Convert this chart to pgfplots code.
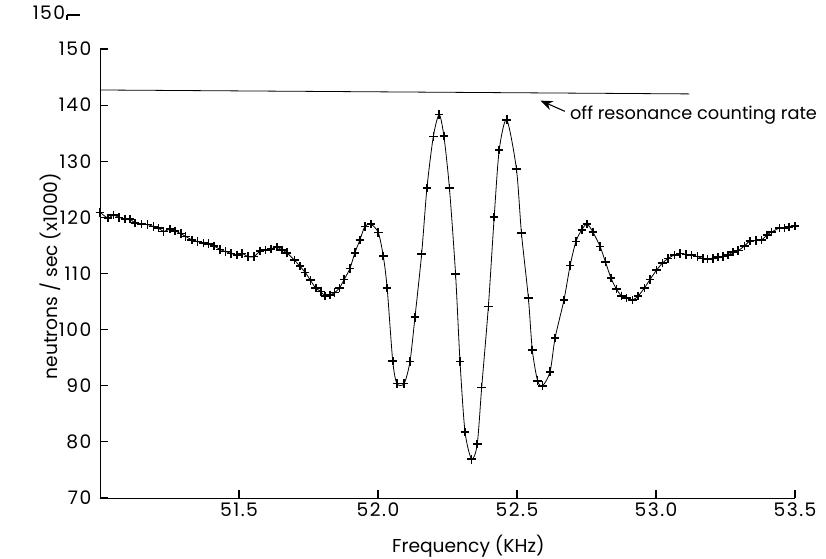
\documentclass[border=0pt]{standalone}
\usepackage{fontspec}
\setmainfont{Poppins}
\newfontfamily\tickfont[LetterSpace=8]{Poppins}
\usepackage{pgfplots}
\pgfplotsset{compat=1.18}
\usetikzlibrary{arrows.meta}

\pgfplotstableread{
f      rate
51.000 120.9
51.028 119.9
51.048 120.4
51.068 120.0
51.090 119.7
51.108 119.7
51.126 119.0
51.150 118.8
51.171 118.7
51.192 118.4
51.210 118.1
51.228 117.5
51.252 117.9
51.270 117.6
51.291 117.1
51.308 116.6
51.330 116.0
51.351 115.7
51.372 115.4
51.390 115.3
51.410 114.9
51.432 114.3
51.452 113.9
51.471 113.6
51.492 113.3
51.510 113.6
51.533 113.0
51.554 113.0
51.576 114.0
51.596 114.2
51.615 114.4
51.636 114.7
51.654 114.2
51.672 113.7
51.699 112.4
51.719 111.3
51.738 110.2
51.757 108.8
51.776 107.4
51.794 106.8
51.809 106.0
51.827 106.2
51.844 106.6
51.861 107.4
51.878 108.9
51.899 110.9
51.917 113.7
51.935 116.0
51.953 118.4
51.974 118.8
52.001 117.3
52.019 113.1
52.033 107.4
52.053 94.4
52.068 90.4
52.094 90.4
52.115 94.3
52.133 102.2
52.157 113.5
52.176 125.2
52.199 134.4
52.220 138.3
52.237 134.5
52.257 125.2
52.279 109.9
52.295 94.3
52.313 81.8
52.337 76.9
52.357 79.6
52.373 89.7
52.397 104.1
52.418 120.1
52.436 132.0
52.463 137.4
52.498 128.6
52.516 117.2
52.541 105.6
52.555 96.4
52.574 90.9
52.592 90.0
52.619 92.5
52.637 98.5
52.669 105.3
52.691 111.4
52.712 115.7
52.733 117.8
52.752 118.8
52.773 117.4
52.799 114.8
52.818 112.1
52.838 109.2
52.858 107.2
52.876 106.0
52.894 105.6
52.916 105.3
52.936 106.0
52.958 107.4
52.978 108.9
53.002 110.6
53.024 111.9
53.044 112.7
53.066 113.3
53.086 113.6
53.108 113.4
53.128 113.3
53.149 113.0
53.168 112.7
53.185 112.6
53.204 112.7
53.222 112.9
53.240 113.0
53.258 113.3
53.278 113.8
53.296 114.1
53.318 114.9
53.338 115.8
53.360 115.9
53.380 116.0
53.400 116.9
53.416 117.4
53.444 118.1
53.462 118.1
53.479 118.3
53.500 118.5
}\scan

\begin{document}
\begin{tikzpicture}[x=0.75pt, y=0.75pt]
  \begin{axis}[
      at={(0,0)}, anchor=south west,
      scale only axis,
      width=521.25pt, height=336.75pt,
      xmin=51, xmax=53.5,
      ymin=70, ymax=150,
      clip=false,
      axis lines=left,
      axis line style={-, line width=0.7pt},
      xtick={51.5,52.0,52.5,53.0,53.5},
      ytick={70,80,...,150},
      tick align=inside,
      major tick length=6pt,
      tick style={black, line width=0.9pt},
      tick label style={font=\tickfont\fontsize{14pt}{16pt}\selectfont},
      xticklabel style={/pgf/number format/.cd, fixed, fixed zerofill, precision=1, assume math mode=true},
      yticklabel style={/pgf/number format/assume math mode=true, xshift=-3pt},
      xlabel={Frequency (KHz)},
      xlabel style={at={(axis description cs:0.53,0)}, anchor=base, yshift=-41pt,
        font=\fontsize{14pt}{16pt}\selectfont},
      ylabel={neutrons / sec (x1000)},
      ylabel style={at={(axis description cs:-0.072,0.494)}, anchor=center,
        font=\fontsize{14pt}{16pt}\selectfont},
    ]
    % measured counting rate
    \addplot[black, line width=0.6pt, smooth, tension=0.45,
      mark=+, mark size=3.2pt, mark options={line width=1.2pt}]
      table[x=f, y=rate] {\scan};

    % off resonance level
    \addplot[black, line width=0.6pt, no marks] coordinates {(51.0,142.7) (53.12,142.0)};

    \draw[-{Stealth[length=9pt, width=7pt]}, line width=0.8pt]
      (axis cs:52.672,138.9) -- (axis cs:52.585,140.8);
    \node[anchor=west, inner sep=0pt, font=\fontsize{13.3pt}{16pt}\selectfont]
      at (axis cs:52.69,138.3) {off resonance counting rate};
  \end{axis}
  \pgfresetboundingbox
  \path[use as bounding box] (-100,-60) rectangle (726,498);
  % ghost of an earlier scale at the top left
  \node[font=\tickfont\fontsize{14pt}{16pt}\selectfont, inner sep=0pt, anchor=base] at (-51,478) {150};
  \draw[line width=0.8pt] (-33,483) -- (-20,483) (-33,483) -- (-33,478);
\end{tikzpicture}
\end{document}
